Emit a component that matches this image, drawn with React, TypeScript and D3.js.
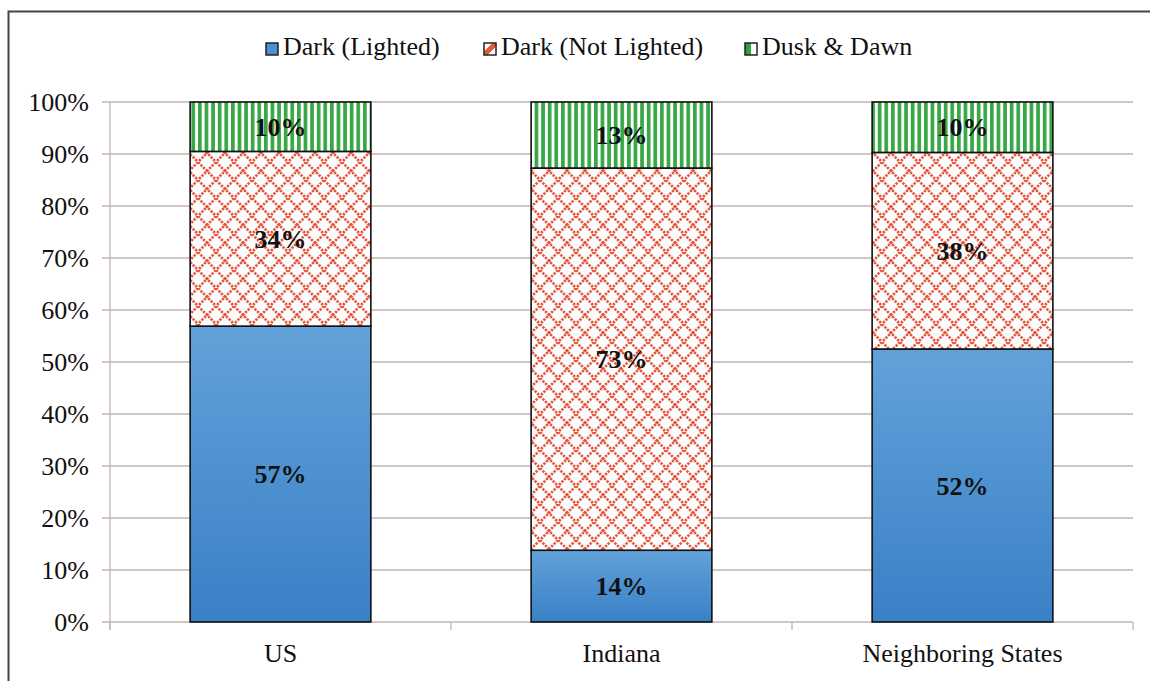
import React from "react";
import * as d3 from "d3";

const categories = ["US", "Indiana", "Neighboring States"];
const seriesNames = ["Dark (Lighted)", "Dark (Not Lighted)", "Dusk & Dawn"];
const darkLighted = [56.9, 13.8, 52.5];
const darkNotLighted = [33.6, 73.5, 37.8];
const duskDawn = [9.5, 12.7, 9.7];
const valueLabels = [
  ["57%", "14%", "52%"],
  ["34%", "73%", "38%"],
  ["10%", "13%", "10%"],
];
const yTicks = [0, 10, 20, 30, 40, 50, 60, 70, 80, 90, 100];

const W = 1150;
const H = 681;
const plotLeft = 110;
const plotRight = 1133;
const plotTop = 102;
const plotBottom = 622;
const font = "'Liberation Serif', 'Times New Roman', serif";

export default function App() {
  const series = [darkLighted, darkNotLighted, duskDawn];
  const fills = ["url(#blueGrad)", "url(#crossPat)", "url(#stripePat)"];
  const x = d3.scaleBand<string>().domain(categories).range([plotLeft, plotRight]).paddingInner(0.47).paddingOuter(0.235);
  const y = d3.scaleLinear().domain([0, 100]).range([plotBottom, plotTop]);

  const stacked = categories.map((c, i) => {
    let acc = 0;
    return series.map((s, k) => {
      const y0 = acc;
      acc += s[i];
      return { k, y0, y1: acc, cat: c, label: valueLabels[k][i] };
    });
  });

  const catBounds = d3.range(categories.length + 1).map((i) => plotLeft + ((plotRight - plotLeft) / categories.length) * i);

  const legendItems = [
    { x: 283, name: seriesNames[0], fill: "#4a90d0" },
    { x: 501, name: seriesNames[1], fill: "url(#legCross)" },
    { x: 762, name: seriesNames[2], fill: "url(#legGreen)" },
  ];

  return (
    <svg width={W} height={H} style={{ position: "absolute", left: 0, top: 0, background: "#fff" }}>
      <defs>
        <linearGradient id="blueGrad" x1="0" y1="0" x2="0" y2="1">
          <stop offset="0" stopColor="#62a2da" />
          <stop offset="1" stopColor="#3a80c6" />
        </linearGradient>
        <pattern id="crossPat" patternUnits="userSpaceOnUse" width="18" height="18">
          <rect width="18" height="18" fill="#fbfcfe" />
          <path d="M0,0 L18,18 M18,0 L0,18" stroke="#e5583b" strokeWidth="2.6" strokeDasharray="2.4,1.2" />
        </pattern>
        <pattern id="stripePat" patternUnits="userSpaceOnUse" width="6.6" height="10">
          <rect width="6.6" height="10" fill="#ffffff" />
          <rect width="3.7" height="10" fill="#38a846" />
        </pattern>
        <linearGradient id="legGreen" x1="0" y1="0" x2="1" y2="0">
          <stop offset="0" stopColor="#2e9a3a" />
          <stop offset="0.5" stopColor="#38a846" />
          <stop offset="0.5" stopColor="#ffffff" />
          <stop offset="1" stopColor="#ffffff" />
        </linearGradient>
        <linearGradient id="legCross" x1="0" y1="0" x2="1" y2="1">
          <stop offset="0" stopColor="#ffffff" />
          <stop offset="0.35" stopColor="#ffffff" />
          <stop offset="0.35" stopColor="#e4583c" />
          <stop offset="0.65" stopColor="#e4583c" />
          <stop offset="0.65" stopColor="#ffffff" />
          <stop offset="1" stopColor="#ffffff" />
        </linearGradient>
      </defs>

      {/* frame */}
      <path d={`M8.5,${H} L8.5,11.5 L${W},11.5`} fill="none" stroke="#444" strokeWidth={2} />

      {/* legend */}
      {legendItems.map((it, i) => (
        <g key={i}>
          <rect x={it.x - 17} y={43} width={12} height={12} fill={it.fill} stroke="#222" strokeWidth={1.5} />
          <text x={it.x} y={55} fontFamily={font} fontSize={26} fill="#111">
            {it.name}
          </text>
        </g>
      ))}

      {/* gridlines */}
      {yTicks.map((t) => (
        <g key={t}>
          <line x1={plotLeft - 8} x2={plotRight} y1={y(t)} y2={y(t)} stroke="#c4b4b2" strokeWidth={1.3} />
          <text x={89} y={y(t) + 9} textAnchor="end" fontFamily={font} fontSize={26} fill="#111">
            {t}%
          </text>
        </g>
      ))}
      <line x1={plotLeft} x2={plotLeft} y1={plotTop} y2={plotBottom + 8} stroke="#c4b4b2" strokeWidth={1.3} />
      {catBounds.map((b, i) => (
        <line key={i} x1={b} x2={b} y1={plotBottom} y2={plotBottom + 8} stroke="#c4b4b2" strokeWidth={1.3} />
      ))}

      {/* bars */}
      {stacked.map((segs, i) => (
        <g key={i}>
          {segs.map((s) => (
            <rect
              key={s.k}
              x={x(s.cat)}
              y={y(s.y1)}
              width={x.bandwidth()}
              height={y(s.y0) - y(s.y1)}
              fill={fills[s.k]}
              stroke="#111"
              strokeWidth={1.6}
            />
          ))}
          {segs.map((s) => (
            <text
              key={"t" + s.k}
              x={(x(s.cat) as number) + x.bandwidth() / 2}
              y={(y(s.y0) + y(s.y1)) / 2 + 9}
              textAnchor="middle"
              fontFamily={font}
              fontWeight="bold"
              fontSize={26}
              fill="#111"
            >
              {s.label}
            </text>
          ))}
        </g>
      ))}

      {/* category labels */}
      {categories.map((c) => (
        <text key={c} x={(x(c) as number) + x.bandwidth() / 2} y={662} textAnchor="middle" fontFamily={font} fontSize={26} fill="#111">
          {c}
        </text>
      ))}
    </svg>
  );
}
